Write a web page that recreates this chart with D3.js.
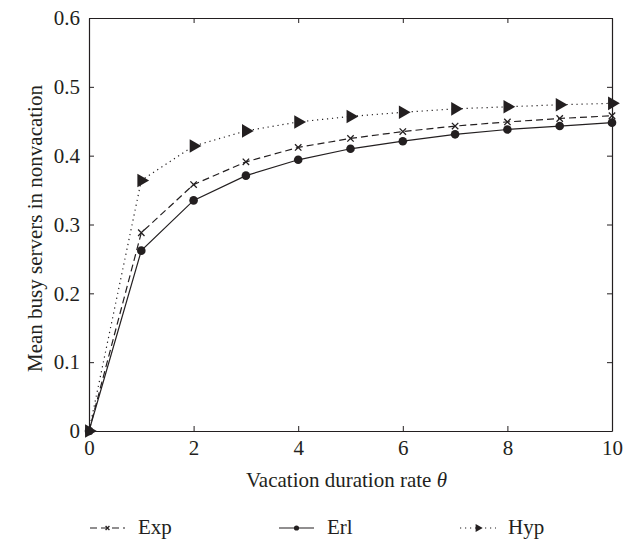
<!DOCTYPE html>
<html>
<head>
<meta charset="utf-8">
<script src="https://cdn.jsdelivr.net/npm/d3@7"></script>
<style>
  html, body { margin: 0; padding: 0; background: #fff; }
  svg { display: block; }
  text { font-family: "Liberation Serif", "Times New Roman", serif; fill: #231f20; }
</style>
</head>
<body>
<svg id="chart" width="631" height="543"></svg>
<script>
const theta = [0, 1, 2, 3, 4, 5, 6, 7, 8, 9, 10];
const expVals = [0, 0.288, 0.358, 0.391, 0.412, 0.425, 0.435, 0.443, 0.449, 0.454, 0.458];
const erlVals = [0, 0.262, 0.335, 0.371, 0.394, 0.410, 0.421, 0.431, 0.438, 0.443, 0.448];
const hypVals = [0, 0.364, 0.414, 0.436, 0.449, 0.457, 0.463, 0.468, 0.471, 0.474, 0.476];
const xTicks = [0, 2, 4, 6, 8, 10];
const yTicks = [0, 0.1, 0.2, 0.3, 0.4, 0.5, 0.6];
const seriesNames = ["Exp", "Erl", "Hyp"];

const svg = d3.select("#chart");
const m = { left: 89, right: 612, top: 18, bottom: 431 };
const x = d3.scaleLinear().domain([0, 10]).range([m.left, m.right]);
const y = d3.scaleLinear().domain([0, 0.6]).range([m.bottom, m.top]);
const ink = "#231f20";
const fs = 21;

// Axes (ticks inward) on all four sides
const tickLen = 5;
const axB = svg.append("g").attr("transform", `translate(0,${m.bottom})`)
  .call(d3.axisBottom(x).tickValues(xTicks).tickSizeInner(-tickLen).tickSizeOuter(0).tickPadding(10).tickFormat(d3.format("d")));
const axT = svg.append("g").attr("transform", `translate(0,${m.top})`)
  .call(d3.axisTop(x).tickValues(xTicks).tickSizeInner(-tickLen).tickSizeOuter(0).tickFormat(""));
const axL = svg.append("g").attr("transform", `translate(${m.left},0)`)
  .call(d3.axisLeft(y).tickValues(yTicks).tickSizeInner(-tickLen).tickSizeOuter(0).tickPadding(9).tickFormat(d => d === 0 ? "0" : d3.format(".1f")(d)));
const axR = svg.append("g").attr("transform", `translate(${m.right},0)`)
  .call(d3.axisRight(y).tickValues(yTicks).tickSizeInner(-tickLen).tickSizeOuter(0).tickFormat(""));
[axB, axT, axL, axR].forEach(g => {
  g.select(".domain").attr("stroke", ink).attr("stroke-width", 1.2);
  g.selectAll(".tick line").attr("stroke", ink).attr("stroke-width", 1);
  g.selectAll(".tick text").attr("font-size", fs).attr("font-family", "Liberation Serif").attr("fill", ink);
});
axB.selectAll(".tick text").attr("dy", "0.68em");

// Axis titles
const xt = svg.append("text").attr("x", (m.left + m.right) / 2 - 4).attr("y", 487)
  .attr("text-anchor", "middle").attr("font-size", fs);
xt.append("tspan").text("Vacation duration rate ");
xt.append("tspan").attr("font-style", "italic").text("θ");

svg.append("text").attr("transform", `translate(42,${(m.top + m.bottom) / 2 + 4}) rotate(-90)`)
  .attr("text-anchor", "middle").attr("font-size", fs).text("Mean busy servers in nonvacation");

// Series
const series = [
  { name: seriesNames[0], vals: expVals, dash: "7,4", marker: "x" },
  { name: seriesNames[1], vals: erlVals, dash: null, marker: "circle" },
  { name: seriesNames[2], vals: hypVals, dash: "1.2,3.8", marker: "tri" }
];
const line = d3.line().x(d => x(d[0])).y(d => y(d[1]));

function drawMarker(g, type, cx, cy, scale) {
  if (type === "circle") {
    g.append("circle").attr("cx", cx).attr("cy", cy).attr("r", 4.3 * scale).attr("fill", ink);
  } else if (type === "x") {
    const s = 3.2 * scale;
    g.append("path").attr("d", `M${cx - s},${cy - s}L${cx + s},${cy + s}M${cx - s},${cy + s}L${cx + s},${cy - s}`)
      .attr("stroke", ink).attr("stroke-width", 1.3).attr("fill", "none");
  } else {
    g.append("path").attr("d", d3.symbol().type(d3.symbolTriangle).size(80 * scale * scale)())
      .attr("transform", `translate(${cx},${cy}) rotate(90)`).attr("fill", ink);
  }
}

series.forEach(s => {
  const pts = theta.map((t, i) => [t, s.vals[i]]);
  svg.append("path").datum(pts).attr("d", line).attr("fill", "none")
    .attr("stroke", ink).attr("stroke-width", 1.2)
    .attr("stroke-dasharray", s.dash);
  const g = svg.append("g");
  pts.forEach(p => drawMarker(g, s.marker, x(p[0]), y(p[1]), 1));
});

// Legend
const legY = 528;
const legItems = [
  { x0: 90, x1: 125, tx: 138 },
  { x0: 279, x1: 314, tx: 327 },
  { x0: 460, x1: 496, tx: 508 }
];
series.forEach((s, i) => {
  const L = legItems[i];
  svg.append("line").attr("x1", L.x0).attr("x2", L.x1).attr("y1", legY).attr("y2", legY)
    .attr("stroke", ink).attr("stroke-width", 1.2).attr("stroke-dasharray", s.dash);
  drawMarker(svg, s.marker, (L.x0 + L.x1) / 2, legY, 0.6);
  svg.append("text").attr("x", L.tx).attr("y", legY + 6).attr("font-size", fs).text(s.name);
});
</script>
</body>
</html>
